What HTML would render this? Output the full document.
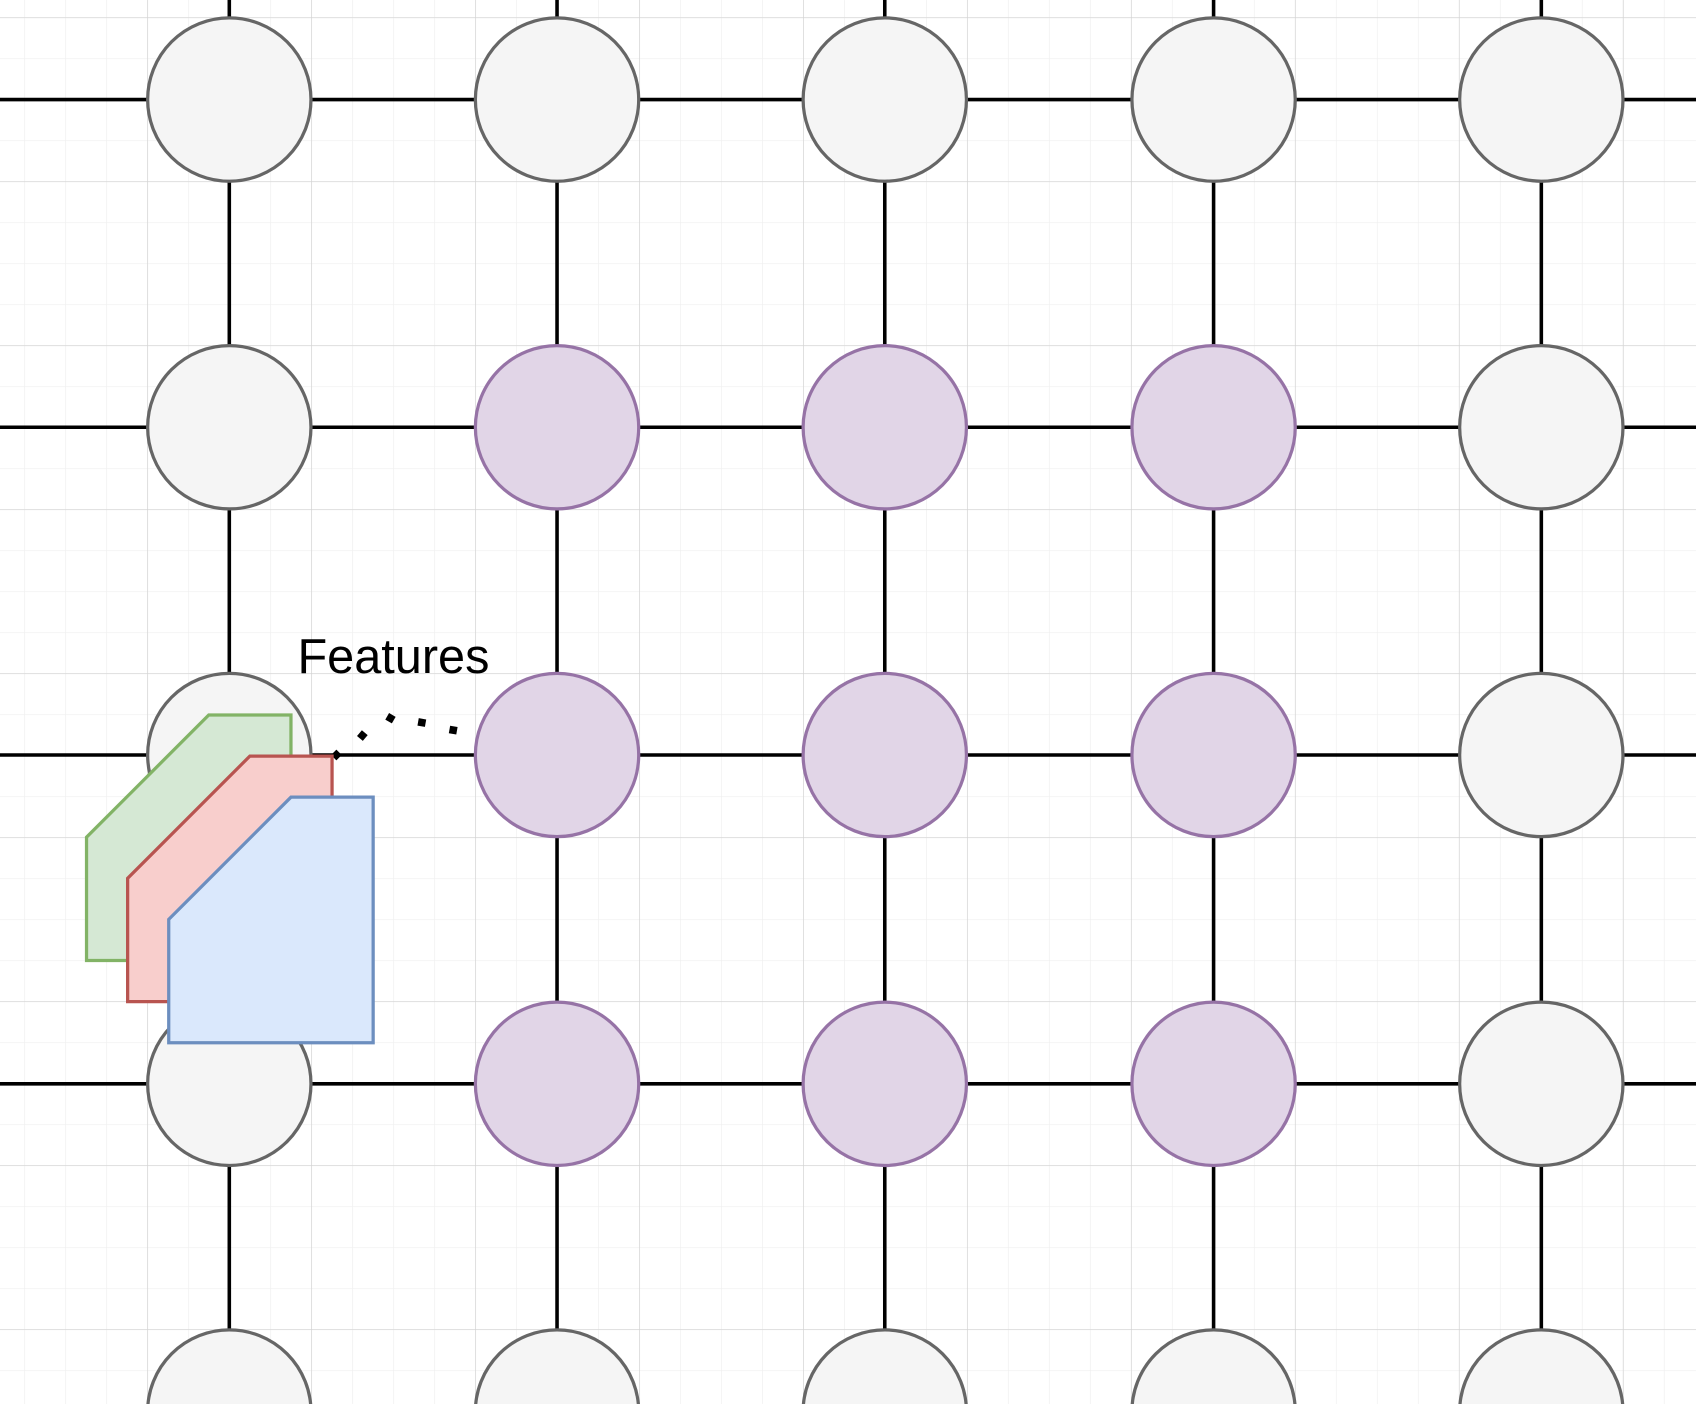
<!DOCTYPE html>
<html><head><meta charset="utf-8"><style>html,body{margin:0;padding:0;background:#fff;width:1696px;height:1404px;overflow:hidden}svg{display:block;overflow:hidden}</style></head>
<body>
<svg width="1696" height="1404" viewBox="0 0 1568 1298" xmlns="http://www.w3.org/2000/svg">
<defs>
<clipPath id="c"><rect x="0" y="0" width="1568" height="1298"/></clipPath>
<pattern id="minor" x="136" y="16" width="37.9" height="37.9" patternUnits="userSpaceOnUse">
<path d="M0 0 V37.9 M0 0 H37.9" stroke="#efefef" stroke-width="1.2" fill="none"/>
</pattern>
<pattern id="major" x="136" y="16" width="151.6" height="151.6" patternUnits="userSpaceOnUse">
<path d="M0 0 V151.6 M0 0 H151.6" stroke="#d2d2d2" stroke-width="1.2" fill="none"/>
</pattern>
</defs>
<g clip-path="url(#c)">
<rect width="1568" height="1298" fill="#fff"/>
<rect width="1568" height="1298" fill="url(#minor)"/>
<rect width="1568" height="1298" fill="url(#major)"/>
<g stroke="#000" stroke-width="3.3">
<line x1="0" y1="92" x2="1568" y2="92"/>
<line x1="0" y1="395" x2="1568" y2="395"/>
<line x1="0" y1="698" x2="1568" y2="698"/>
<line x1="0" y1="1002" x2="1568" y2="1002"/>
<line x1="212" y1="0" x2="212" y2="1298"/>
<line x1="515" y1="0" x2="515" y2="1298"/>
<line x1="818" y1="0" x2="818" y2="1298"/>
<line x1="1122" y1="0" x2="1122" y2="1298"/>
<line x1="1425" y1="0" x2="1425" y2="1298"/>
</g>
<g stroke-width="3">
<g fill="#f5f5f5" stroke="#666">
<circle cx="212" cy="92" r="75.5"/><circle cx="515" cy="92" r="75.5"/><circle cx="818" cy="92" r="75.5"/><circle cx="1122" cy="92" r="75.5"/><circle cx="1425" cy="92" r="75.5"/>
<circle cx="212" cy="395" r="75.5"/><circle cx="1425" cy="395" r="75.5"/>
<circle cx="212" cy="698" r="75.5"/><circle cx="1425" cy="698" r="75.5"/>
<circle cx="212" cy="1002" r="75.5"/><circle cx="1425" cy="1002" r="75.5"/>
<circle cx="212" cy="1305" r="75.5"/><circle cx="515" cy="1305" r="75.5"/><circle cx="818" cy="1305" r="75.5"/><circle cx="1122" cy="1305" r="75.5"/><circle cx="1425" cy="1305" r="75.5"/>
</g>
<g fill="#e1d5e7" stroke="#9673a6">
<circle cx="515" cy="395" r="75.5"/><circle cx="818" cy="395" r="75.5"/><circle cx="1122" cy="395" r="75.5"/>
<circle cx="515" cy="698" r="75.5"/><circle cx="818" cy="698" r="75.5"/><circle cx="1122" cy="698" r="75.5"/>
<circle cx="515" cy="1002" r="75.5"/><circle cx="818" cy="1002" r="75.5"/><circle cx="1122" cy="1002" r="75.5"/>
</g>
</g>
<g fill="#000">
<rect x="-3.5" y="-3.5" width="7" height="7" transform="translate(311,698) rotate(45)"/>
<rect x="-3.5" y="-3.5" width="7" height="7" transform="translate(335,680) rotate(40)"/>
<rect x="-3.5" y="-3.5" width="7" height="7" transform="translate(361,664) rotate(30)"/>
<rect x="-3.5" y="-3.5" width="7" height="7" transform="translate(390,668) rotate(10)"/>
<rect x="-3.5" y="-3.5" width="7" height="7" transform="translate(419,675) rotate(10)"/>
</g>
<g stroke-width="3">
<polygon points="193,661 269,661 269,888 80,888 80,774" fill="#d5e8d4" stroke="#82b366"/>
<polygon points="231,699 307,699 307,926 118,926 118,812" fill="#f8cecc" stroke="#b85450"/>
<polygon points="269,737 345,737 345,964 156,964 156,850" fill="#dae8fc" stroke="#6c8ebf"/>
</g>
<text x="275" y="622" font-family="Liberation Sans, sans-serif" font-size="45" fill="#000">Features</text>
</g>
</svg>
</body></html>
